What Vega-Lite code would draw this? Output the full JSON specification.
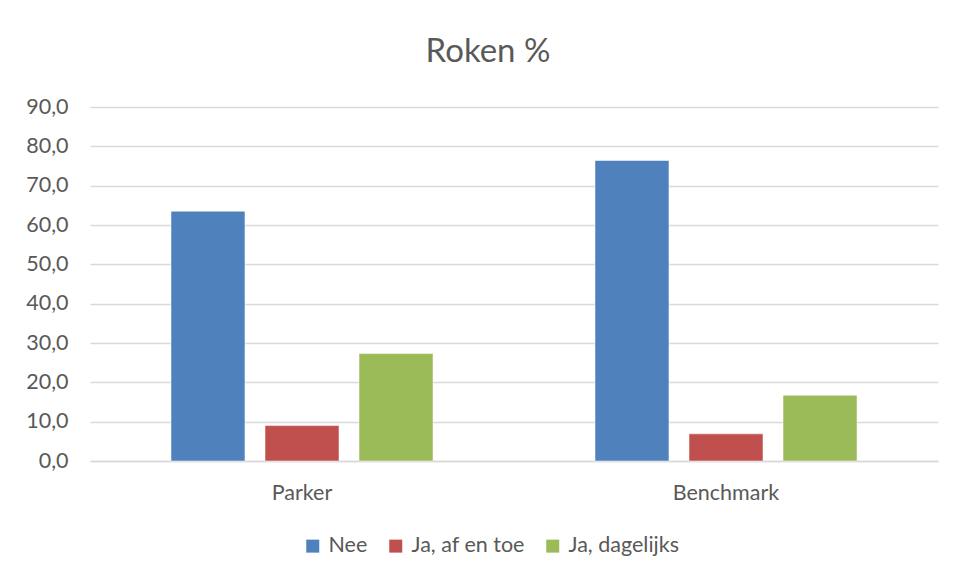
{
  "$schema": "https://vega.github.io/schema/vega-lite/v6.json",
  "autosize": {"type": "none"},
  "width": 848,
  "height": 354,
  "padding": {"left": 90, "top": 107, "right": 17, "bottom": 117},
  "background": "white",
  "title": {"text": "Roken %", "fontSize": 33, "font": "Lato", "fontWeight": "normal", "color": "#595959", "anchor": "middle", "dx": -26, "offset": 27},
  "data": {"values": [
    {"groep": "Parker", "antwoord": "Nee", "pct": 63.5},
    {"groep": "Parker", "antwoord": "Ja, af en toe", "pct": 9.0},
    {"groep": "Parker", "antwoord": "Ja, dagelijks", "pct": 27.3},
    {"groep": "Benchmark", "antwoord": "Nee", "pct": 76.4},
    {"groep": "Benchmark", "antwoord": "Ja, af en toe", "pct": 6.9},
    {"groep": "Benchmark", "antwoord": "Ja, dagelijks", "pct": 16.7}
  ]},
  "mark": {"type": "bar", "stroke": "white", "strokeWidth": 0.5},
  "encoding": {
    "x": {"field": "groep", "type": "nominal", "sort": ["Parker", "Benchmark"],
      "scale": {"paddingInner": 0.382, "paddingOuter": 0.191},
      "axis": {"title": null, "labelAngle": 0, "labelFont": "Lato", "labelFontSize": 21.5, "labelColor": "#595959", "labelPadding": 21, "ticks": false, "domainColor": "#d9d9d9", "domainWidth": 1.5}},
    "xOffset": {"field": "antwoord", "type": "nominal", "sort": ["Nee", "Ja, af en toe", "Ja, dagelijks"],
      "scale": {"paddingInner": 0.213, "paddingOuter": 0}},
    "y": {"field": "pct", "type": "quantitative",
      "scale": {"domain": [0, 90], "nice": false},
      "axis": {"title": null, "values": [0, 10, 20, 30, 40, 50, 60, 70, 80, 90], "labelExpr": "replace(format(datum.value, '.1f'), '.', ',')", "labelFont": "Lato", "labelFontSize": 21.5, "labelColor": "#595959", "labelPadding": 22, "ticks": false, "domain": false, "gridColor": "#d9d9d9", "gridWidth": 1.5}},
    "color": {"field": "antwoord", "type": "nominal", "sort": ["Nee", "Ja, af en toe", "Ja, dagelijks"],
      "scale": {"domain": ["Nee", "Ja, af en toe", "Ja, dagelijks"], "range": ["#4F81BD", "#C0504D", "#9BBB59"]},
      "legend": {"title": null, "orient": "none", "legendX": 212, "legendY": 428, "direction": "horizontal", "symbolType": "square", "symbolSize": 169, "symbolStrokeWidth": 0, "labelFont": "Lato", "labelFontSize": 21.5, "labelColor": "#595959", "labelOffset": 5, "columnPadding": 17}}
  },
  "config": {"view": {"stroke": null}}
}
